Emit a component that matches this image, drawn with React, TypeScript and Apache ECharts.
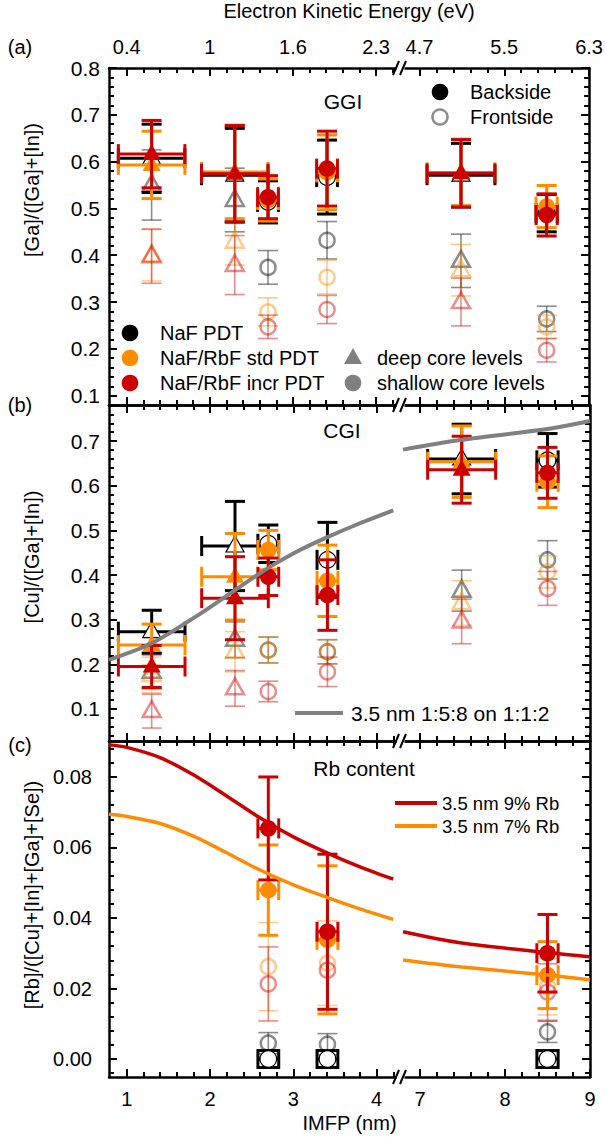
import React, { useEffect, useRef } from "react";
import * as echarts from "echarts";

// ---------- axis definitions ----------
const imfpMajor = [1, 2, 3, 4, 7, 8, 9];
const imfpMinor = [1.2, 1.4, 1.6, 1.8, 2.2, 2.4, 2.6, 2.8, 3.2, 3.4, 3.6, 3.8, 4.2, 7.2, 7.4, 7.6, 7.8, 8.2, 8.4, 8.6, 8.8];
const energyLabels = ["0.4", "1", "1.6", "2.3", "4.7", "5.5", "6.3"];

const ggiRange = [0.08, 0.8];
const cgiRange = [0.028, 0.781];
const rbRange = [-0.0051, 0.0902];
const ggiTicks = [0.1, 0.2, 0.3, 0.4, 0.5, 0.6, 0.7, 0.8];
const cgiTicks = [0.1, 0.2, 0.3, 0.4, 0.5, 0.6, 0.7];
const rbTicks = [0, 0.02, 0.04, 0.06, 0.08];

// ---------- measurement positions ----------
// deep core levels (triangles) then shallow core levels (circles)
const pointIMFP = [1.3, 2.3, 7.49, 2.7, 3.41, 8.5];
const pointXErr = [0.4, 0.4, 0.4, 0.125, 0.125, 0.125];
const pointLevel = ["deep", "deep", "deep", "shallow", "shallow", "shallow"];

// ---------- (a) GGI  [value, error] ----------
const ggiNaFBack = [[0.607, 0.073], [0.571, 0.1], [0.571, 0.068], [0.514, 0.045], [0.567, 0.079], [0.49, 0.04]];
const ggiStdBack = [[0.593, 0.072], [0.578, 0.1], [0.577, 0.071], [0.518, 0.045], [0.577, 0.08], [0.504, 0.045]];
const ggiIncrBack = [[0.616, 0.072], [0.574, 0.103], [0.575, 0.072], [0.524, 0.046], [0.585, 0.08], [0.486, 0.045]];
const ggiNaFFront = [[0.55, 0.075], [0.518, 0.068], [0.388, 0.057], [0.374, 0.036], [0.432, 0.04], [0.264, 0.027]];
const ggiStdFront = [[0.4, 0.055], [0.429, 0.05], [0.368, 0.055], [0.279, 0.03], [0.353, 0.036], [0.247, 0.025]];
const ggiIncrFront = [[0.398, 0.058], [0.379, 0.063], [0.3, 0.051], [0.247, 0.025], [0.284, 0.03], [0.197, 0.025]];

// ---------- (b) CGI ----------
const cgiNaFBack = [[0.273, 0.048], [0.465, 0.1], [0.66, 0.078], [0.47, 0.042], [0.434, 0.084], [0.657, 0.06]];
const cgiStdBack = [[0.243, 0.047], [0.396, 0.097], [0.654, 0.08], [0.456, 0.044], [0.387, 0.08], [0.609, 0.058]];
const cgiIncrBack = [[0.195, 0.047], [0.348, 0.093], [0.636, 0.075], [0.396, 0.042], [0.355, 0.079], [0.629, 0.057]];
const cgiNaFFront = [[0.183, 0.038], [0.255, 0.04], [0.365, 0.046], [0.232, 0.029], [0.228, 0.027], [0.434, 0.043]];
const cgiStdFront = [[0.176, 0.04], [0.228, 0.045], [0.337, 0.05], [0.232, 0.029], [0.228, 0.027], [0.407, 0.036]];
const cgiIncrFront = [[0.095, 0.038], [0.146, 0.04], [0.296, 0.05], [0.139, 0.023], [0.183, 0.033], [0.37, 0.038]];
const simCgiIMFPLeft = [0.787, 1.3, 1.88, 2.3, 2.7, 3.08, 3.41, 3.8, 4.2];
const simCgiLeft = [0.21, 0.247, 0.313, 0.366, 0.416, 0.456, 0.485, 0.516, 0.545];
const simCgiIMFPRight = [6.8, 7.49, 8.5, 9.0];
const simCgiRight = [0.681, 0.703, 0.727, 0.745];

// ---------- (c) Rb content ----------
const rbNaFBack = [null, null, null, [0, 0.0024], [0, 0.0024], [0, 0.0024]];
const rbStdBack = [null, null, null, [0.0479, 0.0128], [0.0338, 0.021], [0.0238, 0.0095]];
const rbIncrBack = [null, null, null, [0.0654, 0.0146], [0.0361, 0.022], [0.03, 0.011]];
const rbNaFFront = [null, null, null, [0.0045, 0.003], [0.0042, 0.003], [0.0077, 0.003]];
const rbStdFront = [null, null, null, [0.0262, 0.0125], [0.0272, 0.012], [0.0205, 0.008]];
const rbIncrFront = [null, null, null, [0.0213, 0.0105], [0.0252, 0.011], [0.019, 0.008]];
const simRbIMFPLeft = [0.787, 1.0, 1.4, 1.8, 2.2, 2.6, 3.0, 3.41, 3.8, 4.2];
const simRb9Left = [0.0891, 0.0884, 0.0855, 0.0806, 0.0746, 0.0684, 0.063, 0.0584, 0.0545, 0.051];
const simRb7Left = [0.0694, 0.0688, 0.0668, 0.0632, 0.0585, 0.0536, 0.0494, 0.0458, 0.0426, 0.0396];
const simRbIMFPRight = [6.8, 7.49, 8.5, 9.0];
const simRb9Right = [0.0361, 0.0329, 0.0302, 0.029];
const simRb7Right = [0.0281, 0.0261, 0.0238, 0.0224];

// ---------- layout / style ----------
const GRID_LEFT = 109;
const GRID_W = 481;
const GRID_TOPS = [68, 405, 741];
const GRID_H = [337, 336, 336];
const FONT = "Liberation Sans, Arial, Helvetica, sans-serif";
const BLACK = "#000000";
const ORANGE = "#FF8C00";
const RED = "#CC0000";
const FRONT = {
  [BLACK]: "rgba(0,0,0,0.45)",
  [ORANGE]: "rgba(255,140,0,0.45)",
  [RED]: "rgba(204,0,0,0.45)",
};

// broken IMFP axis: left segment 0.787-4.25, right segment 6.8-9
function pos(imfp: number): number {
  return imfp < 5 ? 17.7 + (imfp - 1) * 83.3 : 311 + (imfp - 7) * 85;
}
const majorPos = imfpMajor.map(pos);
const minorPos = imfpMinor.map(pos);

function stepValues(a: number, b: number, s: number, skip: number[]): number[] {
  const out: number[] = [];
  const n = Math.round((b - a) / s);
  for (let i = 0; i <= n; i++) {
    const v = +(a + i * s).toFixed(6);
    if (!skip.some((k) => Math.abs(k - v) < 1e-9)) out.push(v);
  }
  return out;
}

const panels = [
  { range: ggiRange, major: ggiTicks, minor: stepValues(0.08, 0.8, 0.02, ggiTicks), dec: 1, margin: 9, fs: 21 },
  { range: cgiRange, major: cgiTicks, minor: stepValues(0.04, 0.78, 0.02, cgiTicks), dec: 1, margin: 9, fs: 21 },
  { range: rbRange, major: rbTicks, minor: stepValues(-0.004, 0.088, 0.004, rbTicks), dec: 2, margin: 17, fs: 20 },
];

function labelFor(v: number, labels: string[]): string {
  const i = majorPos.findIndex((p) => Math.abs(p - v) < 0.01);
  return i >= 0 ? labels[i] : "";
}

function buildAxes() {
  const xAxis: any[] = [];
  const yAxis: any[] = [];
  const line = { show: true, onZero: false, lineStyle: { color: BLACK, width: 2.5 } };
  const noLine = { show: false, onZero: false };
  const tick = (vals: number[], len: number) => ({
    show: true, inside: true, length: len, customValues: vals, lineStyle: { color: BLACK, width: 2 },
  });
  panels.forEach((p, g) => {
    const baseX = { type: "value", gridIndex: g, min: 0, max: GRID_W, splitLine: { show: false } };
    xAxis.push({
      ...baseX, position: "bottom", axisLine: line, axisTick: tick(majorPos, 8),
      axisLabel: g === 2
        ? { show: true, customValues: majorPos, formatter: (v: number) => labelFor(v, imfpMajor.map(String)), fontSize: 20, fontFamily: FONT, color: BLACK, margin: 12 }
        : { show: false },
      name: g === 2 ? "IMFP (nm)" : "", nameLocation: "middle", nameGap: 36,
      nameTextStyle: { fontSize: 20, fontFamily: FONT, color: BLACK },
    });
    xAxis.push({ ...baseX, position: "bottom", axisLine: noLine, axisTick: tick(minorPos, 5), axisLabel: { show: false } });
    xAxis.push({
      ...baseX, position: "top", axisLine: line, axisTick: tick(majorPos, 8),
      axisLabel: g === 0
        ? { show: true, customValues: majorPos, formatter: (v: number) => labelFor(v, energyLabels), fontSize: 20, fontFamily: FONT, color: BLACK, margin: 11 }
        : { show: false },
      name: g === 0 ? "Electron Kinetic Energy (eV)" : "", nameLocation: "middle", nameGap: 47,
      nameTextStyle: { fontSize: 20, fontFamily: FONT, color: BLACK },
    });
    xAxis.push({ ...baseX, position: "top", axisLine: noLine, axisTick: tick(minorPos, 5), axisLabel: { show: false } });
    const baseY = { type: "value", gridIndex: g, min: p.range[0], max: p.range[1], splitLine: { show: false } };
    ["left", "right"].forEach((side) => {
      yAxis.push({
        ...baseY, position: side, axisLine: line, axisTick: tick(p.major, 8),
        axisLabel: side === "left"
          ? { show: true, customValues: p.major, formatter: (v: number) => v.toFixed(p.dec), fontSize: p.fs, fontFamily: FONT, color: BLACK, margin: p.margin }
          : { show: false },
      });
      yAxis.push({ ...baseY, position: side, axisLine: noLine, axisTick: tick(p.minor, 5), axisLabel: { show: false } });
    });
  });
  return { xAxis, yAxis };
}

function pointSeries(g: number, vals: any[], color: string, side: "back" | "front") {
  const data = vals
    .map((v, i) =>
      v
        ? [pos(pointIMFP[i]), v[0], v[1], pos(pointIMFP[i] - pointXErr[i]), pos(pointIMFP[i] + pointXErr[i]), pointLevel[i] === "deep" ? 0 : 1]
        : null
    )
    .filter((d) => d !== null);
  const back = side === "back";
  const stroke = back ? color : FRONT[color];
  const lw = back ? 3 : 1.6;
  return {
    type: "custom",
    xAxisIndex: g * 4,
    yAxisIndex: g * 4,
    data,
    silent: true,
    renderItem: (params: any, api: any) => {
      const x = api.value(0);
      const y = api.value(1);
      const e = api.value(2);
      const c = api.coord([x, y]);
      const t = api.coord([x, y + e]);
      const b = api.coord([x, y - e]);
      const cap = 10;
      const L = (x1: number, y1: number, x2: number, y2: number) => ({
        type: "line",
        shape: { x1, y1, x2, y2 },
        style: { stroke, lineWidth: lw },
      });
      const ch: any[] = [
        L(c[0], t[1], c[0], b[1]),
        L(c[0] - cap, t[1], c[0] + cap, t[1]),
        L(c[0] - cap, b[1], c[0] + cap, b[1]),
      ];
      if (back) {
        const l = api.coord([api.value(3), y]);
        const r = api.coord([api.value(4), y]);
        ch.push(L(l[0], c[1], r[0], c[1]), L(l[0], c[1] - cap, l[0], c[1] + cap), L(r[0], c[1] - cap, r[0], c[1] + cap));
      }
      let mStyle: any;
      if (back && color === BLACK) mStyle = { fill: "#ffffff", stroke: BLACK, lineWidth: 1.2 };
      else if (back) mStyle = { fill: color, stroke: "none" };
      else mStyle = { fill: "none", stroke, lineWidth: 2.5 };
      if (api.value(5) === 0) {
        ch.push({
          type: "polygon",
          shape: { points: [[c[0], c[1] - 10], [c[0] - 9, c[1] + 6], [c[0] + 9, c[1] + 6]] },
          style: mStyle,
        });
      } else {
        ch.push({ type: "circle", shape: { cx: c[0], cy: c[1], r: back ? 8.3 : 7.5 }, style: mStyle });
      }
      return { type: "group", children: ch };
    },
  };
}

function curveSeries(g: number, xs: number[], ys: number[], color: string, width: number) {
  return {
    type: "line",
    xAxisIndex: g * 4,
    yAxisIndex: g * 4,
    data: xs.map((x, i) => [pos(x), ys[i]]),
    showSymbol: false,
    smooth: 0.3,
    silent: true,
    lineStyle: { color, width },
  };
}

function panelSeries(g: number, sets: any[]) {
  const [nb, sb, ib, nf, sf, inf] = sets;
  return [
    pointSeries(g, nf, BLACK, "front"),
    pointSeries(g, sf, ORANGE, "front"),
    pointSeries(g, inf, RED, "front"),
    pointSeries(g, nb, BLACK, "back"),
    pointSeries(g, sb, ORANGE, "back"),
    pointSeries(g, ib, RED, "back"),
  ];
}

function txt(text: string, x: number, y: number, size = 20, align = "left", extra: any = {}) {
  return {
    type: "text",
    x,
    y,
    z: 50,
    ...extra,
    style: { text, fill: BLACK, fontSize: size, fontFamily: FONT, align, verticalAlign: "middle" },
  };
}

function breakMarks(y: number) {
  return [
    { type: "rect", z: 100, shape: { x: 396.5, y: y - 3, width: 8, height: 6 }, style: { fill: "#ffffff" } },
    { type: "line", z: 101, shape: { x1: 393, y1: y + 7, x2: 399, y2: y - 7 }, style: { stroke: BLACK, lineWidth: 2 } },
    { type: "line", z: 101, shape: { x1: 400, y1: y + 7, x2: 406, y2: y - 7 }, style: { stroke: BLACK, lineWidth: 2 } },
  ];
}

function buildGraphic() {
  const G: any[] = [];
  G.push(txt("(a)", 20, 47, 20, "center"), txt("(b)", 20, 405, 20, "center"), txt("(c)", 20, 745, 20, "center"));
  G.push(txt("[Ga]/([Ga]+[In])", 32, 190, 20, "center", { rotation: Math.PI / 2 }));
  G.push(txt("[Cu]/([Ga]+[In])", 32, 557, 20, "center", { rotation: Math.PI / 2 }));
  G.push(txt("[Rb]/([Cu]+[In]+[Ga]+[Se])", 32, 895, 20, "center", { rotation: Math.PI / 2 }));
  G.push(txt("GGI", 343, 101, 21, "center"), txt("CGI", 342, 430, 21, "center"), txt("Rb content", 364, 768, 21, "center"));
  // legend (a) top-right
  G.push({ type: "circle", z: 50, shape: { cx: 440, cy: 92, r: 8.3 }, style: { fill: BLACK } });
  G.push(txt("Backside", 470, 92));
  G.push({ type: "circle", z: 50, shape: { cx: 440, cy: 117, r: 7.5 }, style: { fill: "none", stroke: "#8c8c8c", lineWidth: 2.5 } });
  G.push(txt("Frontside", 470, 117));
  // legend (a) bottom
  G.push({ type: "circle", z: 50, shape: { cx: 130, cy: 333, r: 8.3 }, style: { fill: BLACK } });
  G.push(txt("NaF PDT", 160, 333));
  G.push({ type: "circle", z: 50, shape: { cx: 130, cy: 358, r: 8.3 }, style: { fill: ORANGE } });
  G.push(txt("NaF/RbF std PDT", 160, 358));
  G.push({ type: "circle", z: 50, shape: { cx: 130, cy: 383, r: 8.3 }, style: { fill: RED } });
  G.push(txt("NaF/RbF incr PDT", 160, 383));
  G.push({ type: "polygon", z: 50, shape: { points: [[353, 348], [344, 364], [362, 364]] }, style: { fill: "#808080" } });
  G.push(txt("deep core levels", 377, 358));
  G.push({ type: "circle", z: 50, shape: { cx: 353, cy: 383, r: 8.3 }, style: { fill: "#808080" } });
  G.push(txt("shallow core levels", 377, 383));
  // legend (b)
  G.push({ type: "line", z: 50, shape: { x1: 295, y1: 713, x2: 343, y2: 713 }, style: { stroke: "#808080", lineWidth: 4 } });
  G.push(txt("3.5 nm 1:5:8 on 1:1:2", 351, 713, 21));
  // legend (c)
  G.push({ type: "line", z: 50, shape: { x1: 395, y1: 803, x2: 437, y2: 803 }, style: { stroke: RED, lineWidth: 4 } });
  G.push(txt("3.5 nm 9% Rb", 442, 803, 18.5));
  G.push({ type: "line", z: 50, shape: { x1: 395, y1: 826, x2: 437, y2: 826 }, style: { stroke: ORANGE, lineWidth: 4 } });
  G.push(txt("3.5 nm 7% Rb", 442, 826, 18.5));
  [68, 405, 741, 1077].forEach((y) => G.push(...breakMarks(y)));
  return G;
}

export default function App() {
  const ref = useRef<HTMLDivElement>(null);
  useEffect(() => {
    if (!ref.current) return;
    const chart = echarts.init(ref.current, undefined, { renderer: "svg" });
    const { xAxis, yAxis } = buildAxes();
    const series: any[] = [
      curveSeries(2, simRbIMFPLeft, simRb9Left, RED, 3.5),
      curveSeries(2, simRbIMFPRight, simRb9Right, RED, 3.5),
      curveSeries(2, simRbIMFPLeft, simRb7Left, ORANGE, 3.5),
      curveSeries(2, simRbIMFPRight, simRb7Right, ORANGE, 3.5),
      ...panelSeries(0, [ggiNaFBack, ggiStdBack, ggiIncrBack, ggiNaFFront, ggiStdFront, ggiIncrFront]),
      ...panelSeries(1, [cgiNaFBack, cgiStdBack, cgiIncrBack, cgiNaFFront, cgiStdFront, cgiIncrFront]),
      ...panelSeries(2, [rbNaFBack, rbStdBack, rbIncrBack, rbNaFFront, rbStdFront, rbIncrFront]),
      curveSeries(1, simCgiIMFPLeft, simCgiLeft, "#808080", 4),
      curveSeries(1, simCgiIMFPRight, simCgiRight, "#808080", 4),
    ];
    chart.setOption({
      animation: false,
      backgroundColor: "#ffffff",
      grid: GRID_TOPS.map((top, i) => ({ left: GRID_LEFT, top, width: GRID_W, height: GRID_H[i], containLabel: false })),
      xAxis,
      yAxis,
      series,
      graphic: buildGraphic(),
    });
    return () => chart.dispose();
  }, []);
  return <div ref={ref} style={{ position: "fixed", left: 0, top: 0, width: 606, height: 1137, background: "#fff" }} />;
}
